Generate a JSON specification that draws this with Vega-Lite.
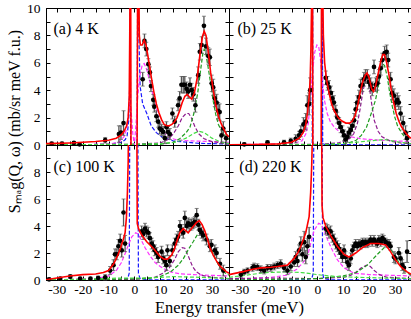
{
"$schema":"https://vega.github.io/schema/vega-lite/v6.json",
"padding":{"left":6,"top":0,"right":0,"bottom":0},
"background":"white",
"datasets":{
"lb":[{"p":"a","x":-31.3,"y":8.5,"t":"(a) 4 K"},{"p":"b","x":-30.9,"y":8.5,"t":"(b) 25 K"},{"p":"c","x":-31.3,"y":8.4,"t":"(c) 100 K"},{"p":"d","x":-30.2,"y":8.4,"t":"(d) 220 K"}],
"pt":[
{"p":"a","x":-32,"y":0.1,"e":0.1},{"p":"a","x":-28,"y":0.1,"e":0.1},{"p":"a","x":-23.4,"y":0.15,"e":0.1},{"p":"a","x":-21.2,"y":0.05,"e":0.1},{"p":"a","x":-11.3,"y":0.35,"e":0.2},{"p":"a","x":-6,"y":0.8,"e":0.6},{"p":"a","x":-5.2,"y":0.9,"e":0.5},{"p":"a","x":-4.2,"y":1.6,"e":0.9},
{"p":"a","x":3.2,"y":4.8,"e":0.5},{"p":"a","x":3.9,"y":7.6,"e":0.5},{"p":"a","x":4.6,"y":7.0,"e":0.5},{"p":"a","x":5.4,"y":5.9,"e":0.4},{"p":"a","x":6.0,"y":5.3,"e":0.4},{"p":"a","x":6.4,"y":4.3,"e":0.4},{"p":"a","x":7.3,"y":3.3,"e":0.4},{"p":"a","x":7.7,"y":2.8,"e":0.4},{"p":"a","x":8.5,"y":2.1,"e":0.4},{"p":"a","x":9.2,"y":1.7,"e":0.4},{"p":"a","x":9.8,"y":1.2,"e":0.4},{"p":"a","x":10.5,"y":1.1,"e":0.4},{"p":"a","x":11.1,"y":0.96,"e":0.4},{"p":"a","x":11.8,"y":0.5,"e":0.4},{"p":"a","x":12.4,"y":1.3,"e":0.4},{"p":"a","x":13.0,"y":0.95,"e":0.4},{"p":"a","x":13.7,"y":0.8,"e":0.4},{"p":"a","x":14.7,"y":2.3,"e":0.4},{"p":"a","x":15.6,"y":1.7,"e":0.4},{"p":"a","x":16.9,"y":2.9,"e":0.4},{"p":"a","x":17.5,"y":3.4,"e":0.5},{"p":"a","x":18.2,"y":4.4,"e":0.6},{"p":"a","x":18.9,"y":4.4,"e":0.6},{"p":"a","x":19.5,"y":4.4,"e":0.6},{"p":"a","x":20.2,"y":4.1,"e":0.5},{"p":"a","x":20.8,"y":3.9,"e":0.5},{"p":"a","x":21.5,"y":4.4,"e":0.5},{"p":"a","x":22.1,"y":4.0,"e":0.5},{"p":"a","x":22.8,"y":3.7,"e":0.5},{"p":"a","x":23.6,"y":2.9,"e":0.5},{"p":"a","x":24.7,"y":5.1,"e":0.6},{"p":"a","x":25.3,"y":6.8,"e":0.6},{"p":"a","x":26.0,"y":7.3,"e":0.6},{"p":"a","x":26.9,"y":8.7,"e":0.7},{"p":"a","x":27.7,"y":7.2,"e":0.6},{"p":"a","x":28.6,"y":6.5,"e":0.6},{"p":"a","x":29.2,"y":6.4,"e":0.6},{"p":"a","x":29.9,"y":4.5,"e":0.6},{"p":"a","x":30.5,"y":4.2,"e":0.6},{"p":"a","x":31.1,"y":3.4,"e":0.6},{"p":"a","x":31.8,"y":3.1,"e":0.6},{"p":"a","x":32.4,"y":2.5,"e":0.6},{"p":"a","x":33.0,"y":2.4,"e":0.6},{"p":"a","x":33.7,"y":0.7,"e":0.6},{"p":"a","x":34.4,"y":1.2,"e":0.5},{"p":"a","x":35.5,"y":0.5,"e":0.5},
{"p":"b","x":-28.3,"y":0.05,"e":0.1},{"p":"b","x":-19.3,"y":0.2,"e":0.1},{"p":"b","x":-12.9,"y":0.2,"e":0.15},{"p":"b","x":-10.3,"y":0.3,"e":0.2},{"p":"b","x":-8.4,"y":0.45,"e":0.3},{"p":"b","x":-7.1,"y":0.7,"e":0.3},{"p":"b","x":-6.4,"y":1.0,"e":0.4},{"p":"b","x":-5.4,"y":1.5,"e":0.5},{"p":"b","x":-4.5,"y":1.7,"e":0.6},{"p":"b","x":-3.9,"y":2.9,"e":0.7},{"p":"b","x":-3.2,"y":3.0,"e":0.8},{"p":"b","x":-2.8,"y":4.0,"e":0.9},
{"p":"b","x":3.2,"y":4.9,"e":0.5},{"p":"b","x":3.9,"y":4.5,"e":0.5},{"p":"b","x":4.5,"y":4.2,"e":0.5},{"p":"b","x":5.2,"y":3.8,"e":0.5},{"p":"b","x":5.8,"y":3.4,"e":0.5},{"p":"b","x":6.4,"y":3.1,"e":0.5},{"p":"b","x":7.1,"y":2.5,"e":0.4},{"p":"b","x":7.7,"y":2.0,"e":0.4},{"p":"b","x":8.4,"y":1.6,"e":0.4},{"p":"b","x":9.0,"y":1.3,"e":0.4},{"p":"b","x":9.7,"y":1.0,"e":0.4},{"p":"b","x":10.3,"y":0.7,"e":0.4},{"p":"b","x":10.9,"y":0.4,"e":0.4},{"p":"b","x":11.6,"y":0.6,"e":0.4},{"p":"b","x":12.2,"y":0.9,"e":0.4},{"p":"b","x":12.9,"y":1.1,"e":0.4},{"p":"b","x":13.5,"y":1.4,"e":0.4},{"p":"b","x":14.2,"y":1.8,"e":0.5},{"p":"b","x":14.8,"y":2.6,"e":0.5},{"p":"b","x":15.4,"y":3.1,"e":0.5},{"p":"b","x":16.1,"y":3.5,"e":0.5},{"p":"b","x":16.7,"y":4.3,"e":0.5},{"p":"b","x":17.4,"y":4.4,"e":0.5},{"p":"b","x":18.0,"y":4.8,"e":0.5},{"p":"b","x":18.6,"y":5.0,"e":0.5},{"p":"b","x":19.3,"y":5.0,"e":0.5},{"p":"b","x":19.9,"y":4.6,"e":0.5},{"p":"b","x":20.6,"y":4.4,"e":0.5},{"p":"b","x":21.2,"y":4.1,"e":0.5},{"p":"b","x":21.9,"y":5.7,"e":0.5},{"p":"b","x":22.5,"y":4.4,"e":0.5},{"p":"b","x":23.2,"y":4.5,"e":0.5},{"p":"b","x":23.8,"y":5.0,"e":0.5},{"p":"b","x":24.5,"y":5.6,"e":0.5},{"p":"b","x":25.1,"y":6.2,"e":0.5},{"p":"b","x":26.0,"y":6.7,"e":0.5},{"p":"b","x":26.8,"y":6.8,"e":0.5},{"p":"b","x":27.4,"y":6.2,"e":0.5},{"p":"b","x":28.3,"y":4.8,"e":0.5},{"p":"b","x":28.9,"y":3.8,"e":0.5},{"p":"b","x":29.6,"y":3.6,"e":0.5},{"p":"b","x":30.2,"y":3.1,"e":0.5},{"p":"b","x":30.9,"y":3.3,"e":0.5},{"p":"b","x":31.5,"y":3.1,"e":0.5},{"p":"b","x":32.2,"y":2.3,"e":0.5},{"p":"b","x":33.2,"y":1.6,"e":0.5},{"p":"b","x":34.1,"y":0.9,"e":0.5},{"p":"b","x":34.7,"y":0.5,"e":0.4},
{"p":"c","x":-33,"y":0.05,"e":0.1},{"p":"c","x":-28.7,"y":0.1,"e":0.1},{"p":"c","x":-24.8,"y":0.25,"e":0.15},{"p":"c","x":-21,"y":0.1,"e":0.1},{"p":"c","x":-17,"y":0.1,"e":0.1},{"p":"c","x":-14,"y":0.15,"e":0.15},{"p":"c","x":-11.3,"y":0.2,"e":0.2},{"p":"c","x":-9.4,"y":0.7,"e":0.3},{"p":"c","x":-8.1,"y":1.1,"e":0.4},{"p":"c","x":-7.5,"y":1.9,"e":0.4},{"p":"c","x":-6.8,"y":1.9,"e":0.4},{"p":"c","x":-6.2,"y":2.5,"e":0.5},{"p":"c","x":-5.5,"y":2.9,"e":0.5},{"p":"c","x":-4.9,"y":2.2,"e":0.5},{"p":"c","x":-4.2,"y":5.0,"e":1.0},{"p":"c","x":-3.6,"y":2.7,"e":0.6},
{"p":"c","x":2.8,"y":3.6,"e":0.4},{"p":"c","x":3.4,"y":3.4,"e":0.4},{"p":"c","x":4.1,"y":3.8,"e":0.4},{"p":"c","x":4.7,"y":3.6,"e":0.4},{"p":"c","x":5.4,"y":3.5,"e":0.4},{"p":"c","x":6.0,"y":3.1,"e":0.4},{"p":"c","x":6.7,"y":2.7,"e":0.4},{"p":"c","x":7.3,"y":2.5,"e":0.4},{"p":"c","x":7.9,"y":2.2,"e":0.4},{"p":"c","x":8.6,"y":2.0,"e":0.4},{"p":"c","x":9.2,"y":1.7,"e":0.4},{"p":"c","x":10.5,"y":2.1,"e":0.4},{"p":"c","x":11.1,"y":1.6,"e":0.4},{"p":"c","x":11.8,"y":1.4,"e":0.4},{"p":"c","x":12.4,"y":1.1,"e":0.4},{"p":"c","x":12.8,"y":2.2,"e":0.4},{"p":"c","x":13.7,"y":1.4,"e":0.4},{"p":"c","x":14.7,"y":2.2,"e":0.4},{"p":"c","x":15.6,"y":2.7,"e":0.4},{"p":"c","x":16.3,"y":3.0,"e":0.4},{"p":"c","x":16.9,"y":3.2,"e":0.4},{"p":"c","x":17.6,"y":4.0,"e":0.4},{"p":"c","x":18.2,"y":3.7,"e":0.4},{"p":"c","x":18.9,"y":3.5,"e":0.4},{"p":"c","x":19.5,"y":4.6,"e":0.5},{"p":"c","x":20.2,"y":4.0,"e":0.4},{"p":"c","x":20.8,"y":4.2,"e":0.4},{"p":"c","x":21.5,"y":4.1,"e":0.4},{"p":"c","x":22.1,"y":4.1,"e":0.4},{"p":"c","x":22.8,"y":4.2,"e":0.4},{"p":"c","x":23.4,"y":4.3,"e":0.4},{"p":"c","x":24.1,"y":4.8,"e":0.5},{"p":"c","x":24.7,"y":4.1,"e":0.4},{"p":"c","x":25.3,"y":3.7,"e":0.4},{"p":"c","x":26.0,"y":3.5,"e":0.4},{"p":"c","x":26.6,"y":3.3,"e":0.4},{"p":"c","x":27.9,"y":3.0,"e":0.4},{"p":"c","x":29.2,"y":2.5,"e":0.4},{"p":"c","x":29.8,"y":2.6,"e":0.4},{"p":"c","x":31.1,"y":2.2,"e":0.4},{"p":"c","x":31.8,"y":2.0,"e":0.4},{"p":"c","x":33.1,"y":1.2,"e":0.4},{"p":"c","x":34.4,"y":0.7,"e":0.4},
{"p":"d","x":-29.6,"y":0.4,"e":0.2},{"p":"d","x":-28.3,"y":0.6,"e":0.2},{"p":"d","x":-27,"y":0.7,"e":0.2},{"p":"d","x":-25.1,"y":0.9,"e":0.25},{"p":"d","x":-24.5,"y":1.0,"e":0.25},{"p":"d","x":-23.2,"y":0.95,"e":0.25},{"p":"d","x":-21.9,"y":0.8,"e":0.25},{"p":"d","x":-20.6,"y":0.7,"e":0.25},{"p":"d","x":-19.3,"y":0.9,"e":0.25},{"p":"d","x":-18,"y":0.9,"e":0.25},{"p":"d","x":-16.7,"y":1.0,"e":0.25},{"p":"d","x":-15.4,"y":1.1,"e":0.25},{"p":"d","x":-14.2,"y":1.2,"e":0.3},{"p":"d","x":-12.9,"y":0.9,"e":0.3},{"p":"d","x":-11.6,"y":0.7,"e":0.3},{"p":"d","x":-10.3,"y":1.0,"e":0.3},{"p":"d","x":-9.0,"y":1.3,"e":0.3},{"p":"d","x":-8.4,"y":1.7,"e":0.4},{"p":"d","x":-7.7,"y":1.4,"e":0.4},{"p":"d","x":-7.1,"y":2.2,"e":0.4},{"p":"d","x":-6.4,"y":2.7,"e":0.5},{"p":"d","x":-5.8,"y":1.9,"e":0.5},{"p":"d","x":-5.1,"y":2.8,"e":0.8},{"p":"d","x":-4.5,"y":1.7,"e":0.5},{"p":"d","x":-3.9,"y":2.5,"e":0.6},{"p":"d","x":-3.2,"y":3.2,"e":0.7},
{"p":"d","x":3.2,"y":3.8,"e":0.4},{"p":"d","x":3.9,"y":3.7,"e":0.4},{"p":"d","x":4.5,"y":3.5,"e":0.4},{"p":"d","x":5.1,"y":3.6,"e":0.4},{"p":"d","x":5.8,"y":3.2,"e":0.4},{"p":"d","x":6.4,"y":3.0,"e":0.4},{"p":"d","x":7.1,"y":2.7,"e":0.4},{"p":"d","x":7.7,"y":2.5,"e":0.4},{"p":"d","x":8.4,"y":2.3,"e":0.4},{"p":"d","x":9.0,"y":2.0,"e":0.4},{"p":"d","x":9.7,"y":1.7,"e":0.4},{"p":"d","x":10.3,"y":2.2,"e":0.4},{"p":"d","x":10.9,"y":1.7,"e":0.4},{"p":"d","x":11.6,"y":1.3,"e":0.4},{"p":"d","x":12.2,"y":1.1,"e":0.4},{"p":"d","x":12.9,"y":1.6,"e":0.4},{"p":"d","x":13.5,"y":2.2,"e":0.4},{"p":"d","x":14.2,"y":2.5,"e":0.3},{"p":"d","x":14.8,"y":2.7,"e":0.3},{"p":"d","x":15.4,"y":2.5,"e":0.3},{"p":"d","x":16.1,"y":2.7,"e":0.3},{"p":"d","x":16.7,"y":2.6,"e":0.3},{"p":"d","x":17.4,"y":2.8,"e":0.3},{"p":"d","x":18.0,"y":2.7,"e":0.3},{"p":"d","x":18.6,"y":2.8,"e":0.3},{"p":"d","x":19.3,"y":2.7,"e":0.3},{"p":"d","x":19.9,"y":2.8,"e":0.3},{"p":"d","x":20.6,"y":3.0,"e":0.3},{"p":"d","x":21.2,"y":2.8,"e":0.3},{"p":"d","x":21.9,"y":3.0,"e":0.3},{"p":"d","x":22.5,"y":2.8,"e":0.3},{"p":"d","x":23.2,"y":2.7,"e":0.3},{"p":"d","x":23.8,"y":3.0,"e":0.3},{"p":"d","x":24.5,"y":2.8,"e":0.3},{"p":"d","x":25.1,"y":3.1,"e":0.3},{"p":"d","x":25.7,"y":3.0,"e":0.3},{"p":"d","x":26.4,"y":2.8,"e":0.3},{"p":"d","x":27.0,"y":2.7,"e":0.3},{"p":"d","x":27.7,"y":2.7,"e":0.3},{"p":"d","x":28.3,"y":2.5,"e":0.3},{"p":"d","x":29.6,"y":1.7,"e":0.4},{"p":"d","x":30.2,"y":1.6,"e":0.4},{"p":"d","x":31.5,"y":2.0,"e":0.4},{"p":"d","x":32.2,"y":1.6,"e":0.4},{"p":"d","x":32.8,"y":1.1,"e":0.4},{"p":"d","x":33.5,"y":0.9,"e":0.4},{"p":"d","x":34.7,"y":2.1,"e":0.8}
],
"cv":[
{"p":"a","s":"fit","x":-34.2,"y":0.1},{"p":"a","s":"fit","x":-30,"y":0.12},{"p":"a","s":"fit","x":-25,"y":0.15},{"p":"a","s":"fit","x":-20,"y":0.2},{"p":"a","s":"fit","x":-15,"y":0.25},{"p":"a","s":"fit","x":-10,"y":0.35},{"p":"a","s":"fit","x":-7,"y":0.5},{"p":"a","s":"fit","x":-5,"y":0.75},{"p":"a","s":"fit","x":-4,"y":1.0},{"p":"a","s":"fit","x":-3,"y":1.4},{"p":"a","s":"fit","x":-2.4,"y":2.0},{"p":"a","s":"fit","x":-2.0,"y":3.5},{"p":"a","s":"fit","x":-1.8,"y":8},{"p":"a","s":"fit","x":-1.6,"y":14},{"p":"a","s":"fit","x":-1.45,"y":14},{"p":"a","s":"fit","x":-1.3,"y":-2},{"p":"a","s":"fit","x":1.0,"y":-2},{"p":"a","s":"fit","x":1.3,"y":14},{"p":"a","s":"fit","x":1.6,"y":14},{"p":"a","s":"fit","x":1.9,"y":8.0},{"p":"a","s":"fit","x":2.3,"y":7.3},{"p":"a","s":"fit","x":3.0,"y":7.3},{"p":"a","s":"fit","x":3.8,"y":7.65},{"p":"a","s":"fit","x":4.5,"y":7.3},{"p":"a","s":"fit","x":5.5,"y":6.2},{"p":"a","s":"fit","x":6.5,"y":5.0},{"p":"a","s":"fit","x":7.5,"y":3.9},{"p":"a","s":"fit","x":8.5,"y":3.0},{"p":"a","s":"fit","x":9.5,"y":2.35},{"p":"a","s":"fit","x":10.5,"y":1.85},{"p":"a","s":"fit","x":11.5,"y":1.5},{"p":"a","s":"fit","x":12.5,"y":1.4},{"p":"a","s":"fit","x":13.5,"y":1.4},{"p":"a","s":"fit","x":14.5,"y":1.5},{"p":"a","s":"fit","x":15.5,"y":1.7},{"p":"a","s":"fit","x":16.5,"y":2.0},{"p":"a","s":"fit","x":17.5,"y":2.5},{"p":"a","s":"fit","x":18.5,"y":3.1},{"p":"a","s":"fit","x":19.5,"y":3.55},{"p":"a","s":"fit","x":20.4,"y":3.7},{"p":"a","s":"fit","x":21.3,"y":3.5},{"p":"a","s":"fit","x":22.2,"y":3.35},{"p":"a","s":"fit","x":23.2,"y":3.8},{"p":"a","s":"fit","x":24.3,"y":4.9},{"p":"a","s":"fit","x":25.3,"y":6.5},{"p":"a","s":"fit","x":26.3,"y":7.9},{"p":"a","s":"fit","x":27.0,"y":8.3},{"p":"a","s":"fit","x":27.7,"y":8.0},{"p":"a","s":"fit","x":28.5,"y":6.9},{"p":"a","s":"fit","x":29.5,"y":5.3},{"p":"a","s":"fit","x":30.5,"y":4.0},{"p":"a","s":"fit","x":31.5,"y":2.9},{"p":"a","s":"fit","x":32.5,"y":2.1},{"p":"a","s":"fit","x":33.5,"y":1.6},{"p":"a","s":"fit","x":34.5,"y":1.2},{"p":"a","s":"fit","x":35.5,"y":0.8},{"p":"a","s":"fit","x":36.6,"y":0.6},
{"p":"a","s":"blue","x":-34.2,"y":0},{"p":"a","s":"blue","x":-10,"y":0.05},{"p":"a","s":"blue","x":-5,"y":0.2},{"p":"a","s":"blue","x":-3.5,"y":0.4},{"p":"a","s":"blue","x":-2.8,"y":0.7},{"p":"a","s":"blue","x":-2.2,"y":1.8},{"p":"a","s":"blue","x":-1.8,"y":4.5},{"p":"a","s":"blue","x":-1.6,"y":14},{"p":"a","s":"blue","x":-1.45,"y":-2},{"p":"a","s":"blue","x":1.0,"y":-2},{"p":"a","s":"blue","x":1.3,"y":14},{"p":"a","s":"blue","x":1.6,"y":9},{"p":"a","s":"blue","x":2.2,"y":4.3},{"p":"a","s":"blue","x":3.2,"y":3.0},{"p":"a","s":"blue","x":4.8,"y":2.3},{"p":"a","s":"blue","x":6.5,"y":1.4},{"p":"a","s":"blue","x":8.5,"y":0.9},{"p":"a","s":"blue","x":11,"y":0.55},{"p":"a","s":"blue","x":15,"y":0.3},{"p":"a","s":"blue","x":25,"y":0.12},{"p":"a","s":"blue","x":36.6,"y":0.07},
{"p":"a","s":"mag","x":-34.2,"y":0},{"p":"a","s":"mag","x":-10,"y":0.05},{"p":"a","s":"mag","x":-6,"y":0.2},{"p":"a","s":"mag","x":-4,"y":0.6},{"p":"a","s":"mag","x":-3,"y":1.2},{"p":"a","s":"mag","x":-2.3,"y":2.3},{"p":"a","s":"mag","x":-1.8,"y":3.1},{"p":"a","s":"mag","x":-1.3,"y":2.6},{"p":"a","s":"mag","x":-0.6,"y":0.8},{"p":"a","s":"mag","x":0,"y":0},{"p":"a","s":"mag","x":0.6,"y":1.5},{"p":"a","s":"mag","x":1.3,"y":3.5},{"p":"a","s":"mag","x":2.0,"y":5.0},{"p":"a","s":"mag","x":3.0,"y":5.8},{"p":"a","s":"mag","x":3.8,"y":5.95},{"p":"a","s":"mag","x":4.8,"y":5.5},{"p":"a","s":"mag","x":6,"y":4.6},{"p":"a","s":"mag","x":7,"y":3.8},{"p":"a","s":"mag","x":8,"y":3.0},{"p":"a","s":"mag","x":9,"y":2.2},{"p":"a","s":"mag","x":10,"y":1.5},{"p":"a","s":"mag","x":11,"y":1.1},{"p":"a","s":"mag","x":12,"y":0.8},{"p":"a","s":"mag","x":14,"y":0.5},{"p":"a","s":"mag","x":17,"y":0.35},{"p":"a","s":"mag","x":22,"y":0.3},{"p":"a","s":"mag","x":30,"y":0.25},{"p":"a","s":"mag","x":36.6,"y":0.2},
{"p":"a","s":"pur","x":-34.2,"y":0.02},{"p":"a","s":"pur","x":0,"y":0.05},{"p":"a","s":"pur","x":10,"y":0.15},{"p":"a","s":"pur","x":13,"y":0.4},{"p":"a","s":"pur","x":15,"y":0.8},{"p":"a","s":"pur","x":17,"y":1.4},{"p":"a","s":"pur","x":18.5,"y":2.0},{"p":"a","s":"pur","x":20,"y":2.3},{"p":"a","s":"pur","x":21,"y":2.3},{"p":"a","s":"pur","x":22,"y":2.0},{"p":"a","s":"pur","x":23.5,"y":1.3},{"p":"a","s":"pur","x":25,"y":0.8},{"p":"a","s":"pur","x":27,"y":0.45},{"p":"a","s":"pur","x":30,"y":0.25},{"p":"a","s":"pur","x":36.6,"y":0.1},
{"p":"a","s":"grn","x":-34.2,"y":0},{"p":"a","s":"grn","x":10,"y":0.05},{"p":"a","s":"grn","x":15,"y":0.2},{"p":"a","s":"grn","x":17.5,"y":0.45},{"p":"a","s":"grn","x":20,"y":0.9},{"p":"a","s":"grn","x":21.5,"y":1.3},{"p":"a","s":"grn","x":23,"y":2.3},{"p":"a","s":"grn","x":24.5,"y":3.8},{"p":"a","s":"grn","x":25.5,"y":5.3},{"p":"a","s":"grn","x":26.5,"y":6.7},{"p":"a","s":"grn","x":27,"y":7.0},{"p":"a","s":"grn","x":27.7,"y":6.6},{"p":"a","s":"grn","x":28.5,"y":5.7},{"p":"a","s":"grn","x":29.5,"y":4.5},{"p":"a","s":"grn","x":30.5,"y":3.2},{"p":"a","s":"grn","x":31.5,"y":2.2},{"p":"a","s":"grn","x":32.5,"y":1.5},{"p":"a","s":"grn","x":34,"y":0.9},{"p":"a","s":"grn","x":35.5,"y":0.55},{"p":"a","s":"grn","x":36.6,"y":0.4},
{"p":"a","s":"grn2","x":-34.2,"y":0.02},{"p":"a","s":"grn2","x":0,"y":0.05},{"p":"a","s":"grn2","x":10,"y":0.1},{"p":"a","s":"grn2","x":16,"y":0.2},{"p":"a","s":"grn2","x":20,"y":0.5},{"p":"a","s":"grn2","x":23,"y":0.85},{"p":"a","s":"grn2","x":25,"y":1.0},{"p":"a","s":"grn2","x":27,"y":0.9},{"p":"a","s":"grn2","x":30,"y":0.5},{"p":"a","s":"grn2","x":33,"y":0.25},{"p":"a","s":"grn2","x":36.6,"y":0.1},
{"p":"b","s":"fit","x":-34.2,"y":0.02},{"p":"b","s":"fit","x":-25,"y":0.03},{"p":"b","s":"fit","x":-15,"y":0.08},{"p":"b","s":"fit","x":-10,"y":0.2},{"p":"b","s":"fit","x":-7,"y":0.5},{"p":"b","s":"fit","x":-5.5,"y":0.9},{"p":"b","s":"fit","x":-4.5,"y":1.5},{"p":"b","s":"fit","x":-3.8,"y":2.4},{"p":"b","s":"fit","x":-3.2,"y":3.5},{"p":"b","s":"fit","x":-2.8,"y":4.8},{"p":"b","s":"fit","x":-2.5,"y":7},{"p":"b","s":"fit","x":-2.2,"y":11},{"p":"b","s":"fit","x":-2.0,"y":14},{"p":"b","s":"fit","x":-1.9,"y":14},{"p":"b","s":"fit","x":-1.75,"y":-2},{"p":"b","s":"fit","x":1.45,"y":-2},{"p":"b","s":"fit","x":1.6,"y":14},{"p":"b","s":"fit","x":1.9,"y":14},{"p":"b","s":"fit","x":2.3,"y":8.0},{"p":"b","s":"fit","x":2.8,"y":6.0},{"p":"b","s":"fit","x":3.5,"y":4.8},{"p":"b","s":"fit","x":4.5,"y":3.8},{"p":"b","s":"fit","x":5.5,"y":3.0},{"p":"b","s":"fit","x":6.5,"y":2.5},{"p":"b","s":"fit","x":8,"y":2.0},{"p":"b","s":"fit","x":9.5,"y":1.75},{"p":"b","s":"fit","x":11,"y":1.6},{"p":"b","s":"fit","x":12.5,"y":1.6},{"p":"b","s":"fit","x":13.5,"y":1.75},{"p":"b","s":"fit","x":14.5,"y":2.1},{"p":"b","s":"fit","x":15.5,"y":2.8},{"p":"b","s":"fit","x":16.5,"y":3.8},{"p":"b","s":"fit","x":17.5,"y":4.6},{"p":"b","s":"fit","x":18.5,"y":5.1},{"p":"b","s":"fit","x":19.2,"y":5.25},{"p":"b","s":"fit","x":20,"y":4.9},{"p":"b","s":"fit","x":21,"y":4.1},{"p":"b","s":"fit","x":21.7,"y":3.9},{"p":"b","s":"fit","x":22.5,"y":4.3},{"p":"b","s":"fit","x":23.5,"y":5.2},{"p":"b","s":"fit","x":24.5,"y":6.1},{"p":"b","s":"fit","x":25.3,"y":6.6},{"p":"b","s":"fit","x":26,"y":6.6},{"p":"b","s":"fit","x":26.8,"y":6.0},{"p":"b","s":"fit","x":27.7,"y":5.1},{"p":"b","s":"fit","x":28.5,"y":4.1},{"p":"b","s":"fit","x":29.5,"y":3.1},{"p":"b","s":"fit","x":30.5,"y":2.3},{"p":"b","s":"fit","x":31.5,"y":1.75},{"p":"b","s":"fit","x":32.5,"y":1.35},{"p":"b","s":"fit","x":33.5,"y":1.05},{"p":"b","s":"fit","x":34.5,"y":0.8},{"p":"b","s":"fit","x":35.5,"y":0.6},{"p":"b","s":"fit","x":36.6,"y":0.45},
{"p":"b","s":"blue","x":-34.2,"y":0},{"p":"b","s":"blue","x":-5,"y":0.02},{"p":"b","s":"blue","x":-2.6,"y":0.05},{"p":"b","s":"blue","x":-2.0,"y":0.1},{"p":"b","s":"blue","x":-1.85,"y":14},{"p":"b","s":"blue","x":-1.7,"y":-2},{"p":"b","s":"blue","x":1.75,"y":-2},{"p":"b","s":"blue","x":1.9,"y":14},{"p":"b","s":"blue","x":2.05,"y":0.1},{"p":"b","s":"blue","x":3,"y":0.03},{"p":"b","s":"blue","x":36.6,"y":0},
{"p":"b","s":"mag","x":-34.2,"y":0.02},{"p":"b","s":"mag","x":-10,"y":0.1},{"p":"b","s":"mag","x":-6,"y":0.3},{"p":"b","s":"mag","x":-4.5,"y":0.8},{"p":"b","s":"mag","x":-3.5,"y":1.6},{"p":"b","s":"mag","x":-2.6,"y":3.6},{"p":"b","s":"mag","x":-1.8,"y":5.5},{"p":"b","s":"mag","x":-1,"y":6.8},{"p":"b","s":"mag","x":-0.2,"y":7.3},{"p":"b","s":"mag","x":0.5,"y":7.2},{"p":"b","s":"mag","x":1.2,"y":6.2},{"p":"b","s":"mag","x":2,"y":4.6},{"p":"b","s":"mag","x":2.8,"y":3.2},{"p":"b","s":"mag","x":3.8,"y":2.3},{"p":"b","s":"mag","x":5,"y":1.7},{"p":"b","s":"mag","x":6.5,"y":1.3},{"p":"b","s":"mag","x":8,"y":1.05},{"p":"b","s":"mag","x":10,"y":0.85},{"p":"b","s":"mag","x":13,"y":0.6},{"p":"b","s":"mag","x":17,"y":0.45},{"p":"b","s":"mag","x":22,"y":0.38},{"p":"b","s":"mag","x":30,"y":0.3},{"p":"b","s":"mag","x":36.6,"y":0.25},
{"p":"b","s":"pur","x":-34.2,"y":0},{"p":"b","s":"pur","x":0,"y":0.05},{"p":"b","s":"pur","x":8,"y":0.15},{"p":"b","s":"pur","x":12,"y":0.4},{"p":"b","s":"pur","x":14,"y":0.8},{"p":"b","s":"pur","x":15.5,"y":1.6},{"p":"b","s":"pur","x":16.5,"y":2.6},{"p":"b","s":"pur","x":17.5,"y":3.8},{"p":"b","s":"pur","x":18.5,"y":4.7},{"p":"b","s":"pur","x":19.2,"y":4.9},{"p":"b","s":"pur","x":20,"y":4.4},{"p":"b","s":"pur","x":21,"y":3.0},{"p":"b","s":"pur","x":22,"y":1.8},{"p":"b","s":"pur","x":23.5,"y":1.0},{"p":"b","s":"pur","x":25,"y":0.6},{"p":"b","s":"pur","x":28,"y":0.3},{"p":"b","s":"pur","x":32,"y":0.15},{"p":"b","s":"pur","x":36.6,"y":0.1},
{"p":"b","s":"grn","x":-34.2,"y":0},{"p":"b","s":"grn","x":5,"y":0.03},{"p":"b","s":"grn","x":12,"y":0.15},{"p":"b","s":"grn","x":15,"y":0.35},{"p":"b","s":"grn","x":17,"y":0.7},{"p":"b","s":"grn","x":19,"y":1.3},{"p":"b","s":"grn","x":21,"y":2.4},{"p":"b","s":"grn","x":22.5,"y":3.3},{"p":"b","s":"grn","x":23.5,"y":4.2},{"p":"b","s":"grn","x":24.5,"y":5.3},{"p":"b","s":"grn","x":25.3,"y":5.9},{"p":"b","s":"grn","x":26,"y":5.8},{"p":"b","s":"grn","x":27,"y":5.0},{"p":"b","s":"grn","x":28,"y":3.8},{"p":"b","s":"grn","x":29,"y":2.8},{"p":"b","s":"grn","x":30,"y":2.0},{"p":"b","s":"grn","x":31,"y":1.4},{"p":"b","s":"grn","x":32.5,"y":0.9},{"p":"b","s":"grn","x":34,"y":0.55},{"p":"b","s":"grn","x":36.6,"y":0.3},
{"p":"b","s":"grn2","x":-34.2,"y":0},{"p":"b","s":"grn2","x":0,"y":0.02},{"p":"b","s":"grn2","x":10,"y":0.1},{"p":"b","s":"grn2","x":20,"y":0.3},{"p":"b","s":"grn2","x":26,"y":0.4},{"p":"b","s":"grn2","x":32,"y":0.2},{"p":"b","s":"grn2","x":36.6,"y":0.1},
{"p":"c","s":"fit","x":-34.2,"y":0.02},{"p":"c","s":"fit","x":-30,"y":0.15},{"p":"c","s":"fit","x":-25,"y":0.3},{"p":"c","s":"fit","x":-20,"y":0.4},{"p":"c","s":"fit","x":-15,"y":0.45},{"p":"c","s":"fit","x":-12,"y":0.55},{"p":"c","s":"fit","x":-10,"y":0.7},{"p":"c","s":"fit","x":-8,"y":1.2},{"p":"c","s":"fit","x":-6.5,"y":1.8},{"p":"c","s":"fit","x":-5.5,"y":2.3},{"p":"c","s":"fit","x":-4.3,"y":3.0},{"p":"c","s":"fit","x":-3.6,"y":3.5},{"p":"c","s":"fit","x":-3.1,"y":4.6},{"p":"c","s":"fit","x":-2.7,"y":6.5},{"p":"c","s":"fit","x":-2.4,"y":8.8},{"p":"c","s":"fit","x":-2.2,"y":14},{"p":"c","s":"fit","x":0.9,"y":14},{"p":"c","s":"fit","x":1.1,"y":4.2},{"p":"c","s":"fit","x":1.6,"y":3.8},{"p":"c","s":"fit","x":2.8,"y":3.35},{"p":"c","s":"fit","x":4.7,"y":2.85},{"p":"c","s":"fit","x":7.3,"y":2.35},{"p":"c","s":"fit","x":9.9,"y":1.75},{"p":"c","s":"fit","x":11.5,"y":1.55},{"p":"c","s":"fit","x":12.8,"y":1.55},{"p":"c","s":"fit","x":14.4,"y":1.85},{"p":"c","s":"fit","x":15.5,"y":2.3},{"p":"c","s":"fit","x":16.5,"y":2.9},{"p":"c","s":"fit","x":17.6,"y":3.5},{"p":"c","s":"fit","x":18.9,"y":3.8},{"p":"c","s":"fit","x":20.8,"y":3.5},{"p":"c","s":"fit","x":22.5,"y":3.9},{"p":"c","s":"fit","x":24,"y":4.25},{"p":"c","s":"fit","x":25.1,"y":4.4},{"p":"c","s":"fit","x":26.2,"y":4.1},{"p":"c","s":"fit","x":27.3,"y":3.6},{"p":"c","s":"fit","x":28.3,"y":3.0},{"p":"c","s":"fit","x":29.2,"y":2.4},{"p":"c","s":"fit","x":30.5,"y":1.85},{"p":"c","s":"fit","x":31.8,"y":1.4},{"p":"c","s":"fit","x":33,"y":1.05},{"p":"c","s":"fit","x":34.4,"y":0.8},{"p":"c","s":"fit","x":35.5,"y":0.62},{"p":"c","s":"fit","x":36.6,"y":0.5},
{"p":"c","s":"blue","x":-34.2,"y":0},{"p":"c","s":"blue","x":-5,"y":0.02},{"p":"c","s":"blue","x":-2.6,"y":0.1},{"p":"c","s":"blue","x":-2.0,"y":0.5},{"p":"c","s":"blue","x":-1.75,"y":14},{"p":"c","s":"blue","x":1.3,"y":14},{"p":"c","s":"blue","x":1.55,"y":0.5},{"p":"c","s":"blue","x":2.2,"y":0.1},{"p":"c","s":"blue","x":5,"y":0.02},{"p":"c","s":"blue","x":36.6,"y":0},
{"p":"c","s":"mag","x":-34.2,"y":0},{"p":"c","s":"mag","x":-15,"y":0.1},{"p":"c","s":"mag","x":-10,"y":0.3},{"p":"c","s":"mag","x":-7,"y":0.7},{"p":"c","s":"mag","x":-5,"y":1.3},{"p":"c","s":"mag","x":-3.5,"y":2.0},{"p":"c","s":"mag","x":-2.3,"y":2.6},{"p":"c","s":"mag","x":-1,"y":3.2},{"p":"c","s":"mag","x":0.5,"y":3.5},{"p":"c","s":"mag","x":1.5,"y":3.4},{"p":"c","s":"mag","x":2.8,"y":2.9},{"p":"c","s":"mag","x":4.1,"y":2.4},{"p":"c","s":"mag","x":6,"y":1.8},{"p":"c","s":"mag","x":8,"y":1.3},{"p":"c","s":"mag","x":10,"y":1.0},{"p":"c","s":"mag","x":11.8,"y":0.8},{"p":"c","s":"mag","x":14,"y":0.6},{"p":"c","s":"mag","x":18,"y":0.45},{"p":"c","s":"mag","x":25,"y":0.38},{"p":"c","s":"mag","x":36.6,"y":0.3},
{"p":"c","s":"pur","x":-34.2,"y":0},{"p":"c","s":"pur","x":0,"y":0.05},{"p":"c","s":"pur","x":8,"y":0.2},{"p":"c","s":"pur","x":11,"y":0.5},{"p":"c","s":"pur","x":13.5,"y":0.9},{"p":"c","s":"pur","x":15.5,"y":1.5},{"p":"c","s":"pur","x":17,"y":2.1},{"p":"c","s":"pur","x":18.5,"y":2.4},{"p":"c","s":"pur","x":19.5,"y":2.35},{"p":"c","s":"pur","x":21,"y":1.7},{"p":"c","s":"pur","x":22.5,"y":1.0},{"p":"c","s":"pur","x":24,"y":0.6},{"p":"c","s":"pur","x":26,"y":0.35},{"p":"c","s":"pur","x":30,"y":0.2},{"p":"c","s":"pur","x":36.6,"y":0.1},
{"p":"c","s":"grn","x":-34.2,"y":0},{"p":"c","s":"grn","x":5,"y":0.1},{"p":"c","s":"grn","x":10,"y":0.25},{"p":"c","s":"grn","x":14,"y":0.6},{"p":"c","s":"grn","x":17,"y":1.1},{"p":"c","s":"grn","x":19,"y":1.6},{"p":"c","s":"grn","x":21,"y":2.3},{"p":"c","s":"grn","x":22.8,"y":2.85},{"p":"c","s":"grn","x":24.5,"y":3.4},{"p":"c","s":"grn","x":25.8,"y":3.55},{"p":"c","s":"grn","x":27,"y":3.4},{"p":"c","s":"grn","x":28.5,"y":2.9},{"p":"c","s":"grn","x":30,"y":2.2},{"p":"c","s":"grn","x":31.5,"y":1.5},{"p":"c","s":"grn","x":33,"y":0.95},{"p":"c","s":"grn","x":34.5,"y":0.6},{"p":"c","s":"grn","x":36.6,"y":0.35},
{"p":"c","s":"grn2","x":-34.2,"y":0.02},{"p":"c","s":"grn2","x":-20,"y":0.05},{"p":"c","s":"grn2","x":-10,"y":0.12},{"p":"c","s":"grn2","x":-3,"y":0.15},{"p":"c","s":"grn2","x":3,"y":0.15},{"p":"c","s":"grn2","x":10,"y":0.2},{"p":"c","s":"grn2","x":15,"y":0.25},{"p":"c","s":"grn2","x":25,"y":0.2},{"p":"c","s":"grn2","x":36.6,"y":0.1},
{"p":"d","s":"fit","x":-34.2,"y":0.4},{"p":"d","s":"fit","x":-28.3,"y":0.64},{"p":"d","s":"fit","x":-25,"y":0.8},{"p":"d","s":"fit","x":-21.9,"y":0.9},{"p":"d","s":"fit","x":-18,"y":0.95},{"p":"d","s":"fit","x":-15.4,"y":1.0},{"p":"d","s":"fit","x":-11.6,"y":1.1},{"p":"d","s":"fit","x":-9,"y":1.6},{"p":"d","s":"fit","x":-7.5,"y":2.05},{"p":"d","s":"fit","x":-6.4,"y":2.5},{"p":"d","s":"fit","x":-4.5,"y":3.5},{"p":"d","s":"fit","x":-3.2,"y":4.7},{"p":"d","s":"fit","x":-2.6,"y":6.5},{"p":"d","s":"fit","x":-2.2,"y":8.5},{"p":"d","s":"fit","x":-1.9,"y":11},{"p":"d","s":"fit","x":-1.7,"y":14},{"p":"d","s":"fit","x":1.6,"y":14},{"p":"d","s":"fit","x":1.8,"y":5.5},{"p":"d","s":"fit","x":2.2,"y":4.6},{"p":"d","s":"fit","x":3.2,"y":4.0},{"p":"d","s":"fit","x":5.1,"y":3.3},{"p":"d","s":"fit","x":7.7,"y":2.5},{"p":"d","s":"fit","x":10.3,"y":1.9},{"p":"d","s":"fit","x":12.2,"y":1.7},{"p":"d","s":"fit","x":14.8,"y":2.0},{"p":"d","s":"fit","x":17.4,"y":2.4},{"p":"d","s":"fit","x":20.6,"y":2.7},{"p":"d","s":"fit","x":23.8,"y":2.7},{"p":"d","s":"fit","x":26.4,"y":2.6},{"p":"d","s":"fit","x":28.3,"y":2.1},{"p":"d","s":"fit","x":30.2,"y":1.5},{"p":"d","s":"fit","x":32.2,"y":1.0},{"p":"d","s":"fit","x":34.7,"y":0.6},{"p":"d","s":"fit","x":36.6,"y":0.4},
{"p":"d","s":"blue","x":-34.2,"y":0},{"p":"d","s":"blue","x":-5,"y":0.02},{"p":"d","s":"blue","x":-2.2,"y":0.1},{"p":"d","s":"blue","x":-1.6,"y":0.5},{"p":"d","s":"blue","x":-1.35,"y":14},{"p":"d","s":"blue","x":1.8,"y":14},{"p":"d","s":"blue","x":2.0,"y":0.5},{"p":"d","s":"blue","x":2.5,"y":0.1},{"p":"d","s":"blue","x":5,"y":0.02},{"p":"d","s":"blue","x":36.6,"y":0},
{"p":"d","s":"mag","x":-34.2,"y":0.05},{"p":"d","s":"mag","x":-20,"y":0.15},{"p":"d","s":"mag","x":-12,"y":0.35},{"p":"d","s":"mag","x":-8,"y":0.8},{"p":"d","s":"mag","x":-5.5,"y":1.3},{"p":"d","s":"mag","x":-3.9,"y":1.7},{"p":"d","s":"mag","x":-2.6,"y":2.7},{"p":"d","s":"mag","x":-1.2,"y":3.7},{"p":"d","s":"mag","x":0.5,"y":4.2},{"p":"d","s":"mag","x":1.5,"y":4.1},{"p":"d","s":"mag","x":2.6,"y":3.7},{"p":"d","s":"mag","x":3.9,"y":3.0},{"p":"d","s":"mag","x":5.8,"y":2.2},{"p":"d","s":"mag","x":7.7,"y":1.5},{"p":"d","s":"mag","x":10.3,"y":0.9},{"p":"d","s":"mag","x":14.2,"y":0.5},{"p":"d","s":"mag","x":20,"y":0.4},{"p":"d","s":"mag","x":28,"y":0.35},{"p":"d","s":"mag","x":36.6,"y":0.3},
{"p":"d","s":"pur","x":-34.2,"y":0.1},{"p":"d","s":"pur","x":-20,"y":0.15},{"p":"d","s":"pur","x":0,"y":0.1},{"p":"d","s":"pur","x":10,"y":0.2},{"p":"d","s":"pur","x":13,"y":0.35},{"p":"d","s":"pur","x":15,"y":0.6},{"p":"d","s":"pur","x":17,"y":0.9},{"p":"d","s":"pur","x":19,"y":1.1},{"p":"d","s":"pur","x":20.5,"y":1.0},{"p":"d","s":"pur","x":22,"y":0.7},{"p":"d","s":"pur","x":24,"y":0.4},{"p":"d","s":"pur","x":27,"y":0.2},{"p":"d","s":"pur","x":36.6,"y":0.1},
{"p":"d","s":"grn","x":-34.2,"y":0},{"p":"d","s":"grn","x":0,"y":0.1},{"p":"d","s":"grn","x":10,"y":0.3},{"p":"d","s":"grn","x":15,"y":0.55},{"p":"d","s":"grn","x":19.3,"y":1.1},{"p":"d","s":"grn","x":23.2,"y":1.9},{"p":"d","s":"grn","x":26.4,"y":2.5},{"p":"d","s":"grn","x":27.5,"y":2.5},{"p":"d","s":"grn","x":28.3,"y":2.3},{"p":"d","s":"grn","x":30.9,"y":1.5},{"p":"d","s":"grn","x":33.5,"y":0.7},{"p":"d","s":"grn","x":36.6,"y":0.3},
{"p":"d","s":"grn2","x":-34.2,"y":0.2},{"p":"d","s":"grn2","x":-28,"y":0.35},{"p":"d","s":"grn2","x":-20,"y":0.55},{"p":"d","s":"grn2","x":-12,"y":0.6},{"p":"d","s":"grn2","x":-6,"y":0.55},{"p":"d","s":"grn2","x":-2,"y":0.45},{"p":"d","s":"grn2","x":2,"y":0.35},{"p":"d","s":"grn2","x":8,"y":0.25},{"p":"d","s":"grn2","x":15,"y":0.2},{"p":"d","s":"grn2","x":25,"y":0.15},{"p":"d","s":"grn2","x":36.6,"y":0.1}
]
},
"columns":2,
"spacing":0,
"bounds":"flush",
"concat":[
{"width":183,"height":137,"layer":[
{"data":{"name":"cv"},"transform":[{"filter":"datum.p=='a' && datum.s!='fit'"}],"mark":{"type":"line","clip":true,"strokeWidth":1.2,"strokeDash":[4,2]},
"encoding":{"x":{"field":"x","type":"quantitative","scale":{"domain":[-34.2,36.6],"nice":false,"zero":false},"axis":{"orient":"top","values":[-30,-25,-20,-15,-10,-5,0,5,10,15,20,25,30,35],"labels":false,"title":null}},
"y":{"field":"y","type":"quantitative","scale":{"domain":[0,10],"nice":false},"axis":{"orient":"right","values":[0,1,2,3,4,5,6,7,8,9,10],"labels":false,"title":null}},
"color":{"field":"s","type":"nominal","scale":{"domain":["blue","mag","pur","grn","grn2"],"range":["#1a1aff","#ff33ff","#8e1b8e","#1f9e1f","#44dd44"]},"legend":null}}},
{"data":{"name":"pt"},"transform":[{"filter":"datum.p=='a'"}],"mark":{"type":"errorbar","ticks":{"size":4},"rule":{"strokeWidth":1.3},"color":"#555"},
"encoding":{"x":{"field":"x","type":"quantitative","axis":null},"y":{"field":"y","type":"quantitative","axis":null},"yError":{"field":"e"}}},
{"data":{"name":"pt"},"transform":[{"filter":"datum.p=='a'"}],"mark":{"type":"circle","size":22,"color":"black","opacity":1},
"encoding":{"x":{"field":"x","type":"quantitative","axis":{"orient":"bottom","values":[-30,-25,-20,-15,-10,-5,0,5,10,15,20,25,30,35],"labels":false,"title":null}},
"y":{"field":"y","type":"quantitative","axis":{"orient":"left","values":[0,1,2,3,4,5,6,7,8,9,10],"labelExpr":"datum.value % 2 == 0 ? '' + datum.value : ''","title":"Sₘₐg(Q, ω) (mb/sr meV f.u.)","titleY":113,"titleFontSize":16}}}},
{"data":{"name":"cv"},"transform":[{"filter":"datum.p=='a' && datum.s=='fit'"}],"mark":{"type":"line","clip":true,"color":"#ff0000","strokeWidth":1.6},
"encoding":{"x":{"field":"x","type":"quantitative","axis":null},"y":{"field":"y","type":"quantitative","axis":null}}},
{"data":{"name":"lb"},"transform":[{"filter":"datum.p=='a'"}],"mark":{"type":"text","align":"left","baseline":"middle","fontSize":16,"font":"Times New Roman","color":"black"},
"encoding":{"x":{"field":"x","type":"quantitative","axis":null},"y":{"field":"y","type":"quantitative","axis":null},"text":{"field":"t"}}}
]},
{"width":183,"height":137,"layer":[
{"data":{"name":"cv"},"transform":[{"filter":"datum.p=='b' && datum.s!='fit'"}],"mark":{"type":"line","clip":true,"strokeWidth":1.2,"strokeDash":[4,2]},
"encoding":{"x":{"field":"x","type":"quantitative","scale":{"domain":[-34.2,36.6],"nice":false,"zero":false},"axis":{"orient":"top","values":[-30,-25,-20,-15,-10,-5,0,5,10,15,20,25,30,35],"labels":false,"title":null}},
"y":{"field":"y","type":"quantitative","scale":{"domain":[0,10],"nice":false},"axis":{"orient":"right","values":[0,1,2,3,4,5,6,7,8,9,10],"labels":false,"title":null}},
"color":{"field":"s","type":"nominal","scale":{"domain":["blue","mag","pur","grn","grn2"],"range":["#1a1aff","#ff33ff","#8e1b8e","#1f9e1f","#44dd44"]},"legend":null}}},
{"data":{"name":"pt"},"transform":[{"filter":"datum.p=='b'"}],"mark":{"type":"errorbar","ticks":{"size":4},"rule":{"strokeWidth":1.3},"color":"#555"},
"encoding":{"x":{"field":"x","type":"quantitative","axis":null},"y":{"field":"y","type":"quantitative","axis":null},"yError":{"field":"e"}}},
{"data":{"name":"pt"},"transform":[{"filter":"datum.p=='b'"}],"mark":{"type":"circle","size":22,"color":"black","opacity":1},
"encoding":{"x":{"field":"x","type":"quantitative","axis":{"orient":"bottom","values":[-30,-25,-20,-15,-10,-5,0,5,10,15,20,25,30,35],"labels":false,"title":null}},
"y":{"field":"y","type":"quantitative","axis":{"orient":"left","values":[0,1,2,3,4,5,6,7,8,9,10],"labels":false,"title":null}}}},
{"data":{"name":"cv"},"transform":[{"filter":"datum.p=='b' && datum.s=='fit'"}],"mark":{"type":"line","clip":true,"color":"#ff0000","strokeWidth":1.6},
"encoding":{"x":{"field":"x","type":"quantitative","axis":null},"y":{"field":"y","type":"quantitative","axis":null}}},
{"data":{"name":"lb"},"transform":[{"filter":"datum.p=='b'"}],"mark":{"type":"text","align":"left","baseline":"middle","fontSize":16,"font":"Times New Roman","color":"black"},
"encoding":{"x":{"field":"x","type":"quantitative","axis":null},"y":{"field":"y","type":"quantitative","axis":null},"text":{"field":"t"}}}
]},
{"width":183,"height":135,"layer":[
{"data":{"name":"cv"},"transform":[{"filter":"datum.p=='c' && datum.s!='fit'"}],"mark":{"type":"line","clip":true,"strokeWidth":1.2,"strokeDash":[4,2]},
"encoding":{"x":{"field":"x","type":"quantitative","scale":{"domain":[-34.2,36.6],"nice":false,"zero":false},"axis":{"orient":"top","values":[-30,-25,-20,-15,-10,-5,0,5,10,15,20,25,30,35],"labels":false,"title":null}},
"y":{"field":"y","type":"quantitative","scale":{"domain":[0,10],"nice":false},"axis":{"orient":"right","values":[0,1,2,3,4,5,6,7,8,9,10],"labels":false,"title":null}},
"color":{"field":"s","type":"nominal","scale":{"domain":["blue","mag","pur","grn","grn2"],"range":["#1a1aff","#ff33ff","#8e1b8e","#1f9e1f","#44dd44"]},"legend":null}}},
{"data":{"name":"pt"},"transform":[{"filter":"datum.p=='c'"}],"mark":{"type":"errorbar","ticks":{"size":4},"rule":{"strokeWidth":1.3},"color":"#555"},
"encoding":{"x":{"field":"x","type":"quantitative","axis":null},"y":{"field":"y","type":"quantitative","axis":null},"yError":{"field":"e"}}},
{"data":{"name":"pt"},"transform":[{"filter":"datum.p=='c'"}],"mark":{"type":"circle","size":22,"color":"black","opacity":1},
"encoding":{"x":{"field":"x","type":"quantitative","axis":{"orient":"bottom","values":[-30,-25,-20,-15,-10,-5,0,5,10,15,20,25,30,35],"labelExpr":"datum.value % 10 == 0 ? '' + datum.value : ''","labelPadding":6,"title":"Energy transfer (meV)","titleX":183,"titlePadding":4}},
"y":{"field":"y","type":"quantitative","axis":{"orient":"left","values":[0,1,2,3,4,5,6,7,8,9,10],"labelExpr":"datum.value % 2 == 0 && datum.value < 10 ? '' + datum.value : ''","title":null}}}},
{"data":{"name":"cv"},"transform":[{"filter":"datum.p=='c' && datum.s=='fit'"}],"mark":{"type":"line","clip":true,"color":"#ff0000","strokeWidth":1.6},
"encoding":{"x":{"field":"x","type":"quantitative","axis":null},"y":{"field":"y","type":"quantitative","axis":null}}},
{"data":{"name":"lb"},"transform":[{"filter":"datum.p=='c'"}],"mark":{"type":"text","align":"left","baseline":"middle","fontSize":16,"font":"Times New Roman","color":"black"},
"encoding":{"x":{"field":"x","type":"quantitative","axis":null},"y":{"field":"y","type":"quantitative","axis":null},"text":{"field":"t"}}}
]},
{"width":183,"height":135,"layer":[
{"data":{"name":"cv"},"transform":[{"filter":"datum.p=='d' && datum.s!='fit'"}],"mark":{"type":"line","clip":true,"strokeWidth":1.2,"strokeDash":[4,2]},
"encoding":{"x":{"field":"x","type":"quantitative","scale":{"domain":[-34.2,36.6],"nice":false,"zero":false},"axis":{"orient":"top","values":[-30,-25,-20,-15,-10,-5,0,5,10,15,20,25,30,35],"labels":false,"title":null}},
"y":{"field":"y","type":"quantitative","scale":{"domain":[0,10],"nice":false},"axis":{"orient":"right","values":[0,1,2,3,4,5,6,7,8,9,10],"labels":false,"title":null}},
"color":{"field":"s","type":"nominal","scale":{"domain":["blue","mag","pur","grn","grn2"],"range":["#1a1aff","#ff33ff","#8e1b8e","#1f9e1f","#44dd44"]},"legend":null}}},
{"data":{"name":"pt"},"transform":[{"filter":"datum.p=='d'"}],"mark":{"type":"errorbar","ticks":{"size":4},"rule":{"strokeWidth":1.3},"color":"#555"},
"encoding":{"x":{"field":"x","type":"quantitative","axis":null},"y":{"field":"y","type":"quantitative","axis":null},"yError":{"field":"e"}}},
{"data":{"name":"pt"},"transform":[{"filter":"datum.p=='d'"}],"mark":{"type":"circle","size":22,"color":"black","opacity":1},
"encoding":{"x":{"field":"x","type":"quantitative","axis":{"orient":"bottom","values":[-30,-25,-20,-15,-10,-5,0,5,10,15,20,25,30,35],"labelExpr":"datum.value % 10 == 0 ? '' + datum.value : ''","labelPadding":6,"title":null}},
"y":{"field":"y","type":"quantitative","axis":{"orient":"left","values":[0,1,2,3,4,5,6,7,8,9,10],"labels":false,"title":null}}}},
{"data":{"name":"cv"},"transform":[{"filter":"datum.p=='d' && datum.s=='fit'"}],"mark":{"type":"line","clip":true,"color":"#ff0000","strokeWidth":1.6},
"encoding":{"x":{"field":"x","type":"quantitative","axis":null},"y":{"field":"y","type":"quantitative","axis":null}}},
{"data":{"name":"lb"},"transform":[{"filter":"datum.p=='d'"}],"mark":{"type":"text","align":"left","baseline":"middle","fontSize":16,"font":"Times New Roman","color":"black"},
"encoding":{"x":{"field":"x","type":"quantitative","axis":null},"y":{"field":"y","type":"quantitative","axis":null},"text":{"field":"t"}}}
]}
],
"config":{
"font":"Times New Roman",
"view":{"stroke":"black","strokeWidth":1},
"axis":{"grid":false,"domainColor":"black","domainWidth":1,"tickColor":"black","tickSize":-4,"labelFont":"Times New Roman","labelFontSize":13.5,"labelColor":"black","labelPadding":10,"labelOverlap":false,"labelFlush":false,"titleFont":"Times New Roman","titleFontSize":16.5,"titleFontWeight":"normal","titleColor":"black"}
}
}
